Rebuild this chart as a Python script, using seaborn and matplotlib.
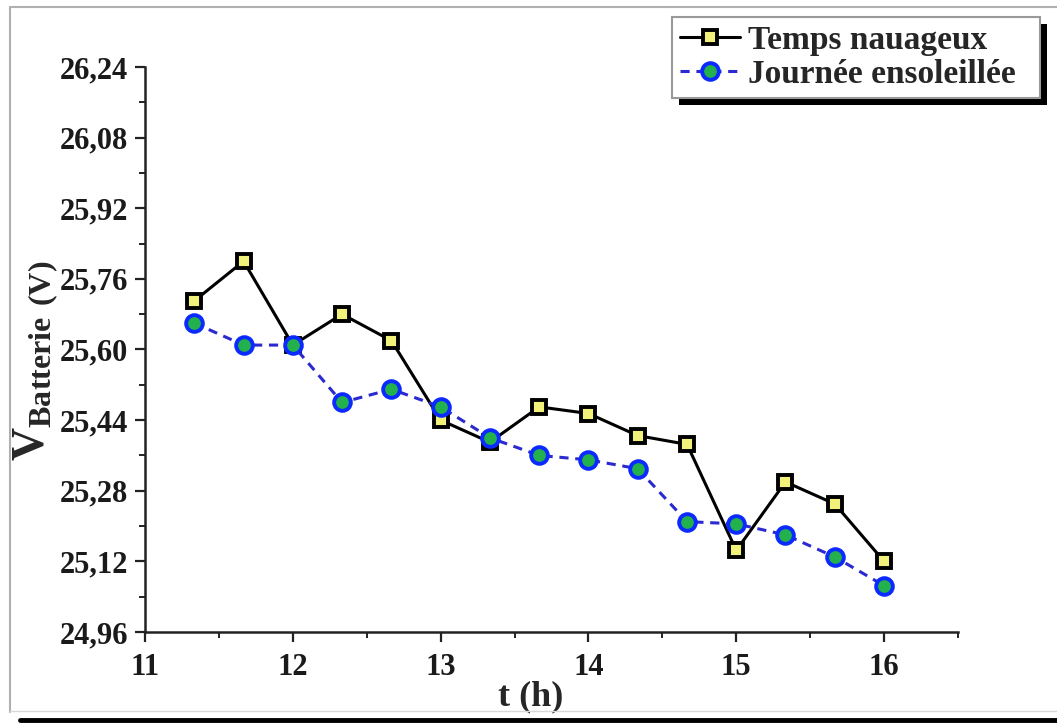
import numpy as np
import pandas as pd
import matplotlib
matplotlib.use("Agg")
import matplotlib.pyplot as plt
import matplotlib.ticker as mticker
from matplotlib.patches import Rectangle
from matplotlib.lines import Line2D
import seaborn as sns

# ---- data ----
t_hours = [11.333, 11.667, 12.0, 12.333, 12.667, 13.0, 13.333, 13.667,
           14.0, 14.333, 14.667, 15.0, 15.333, 15.667, 16.0]
v_nuageux = [25.71, 25.80, 25.61, 25.68, 25.62, 25.44, 25.39, 25.47,
             25.455, 25.405, 25.385, 25.145, 25.30, 25.25, 25.12]
v_soleil = [25.66, 25.61, 25.61, 25.48, 25.51, 25.47, 25.40, 25.36,
            25.35, 25.33, 25.21, 25.205, 25.18, 25.13, 25.065]
label_nuageux = "Temps nauageux"
label_soleil = "Journée ensoleillée"
y_ticks = [24.96, 25.12, 25.28, 25.44, 25.60, 25.76, 25.92, 26.08, 26.24]
x_ticks = [11, 12, 13, 14, 15, 16]

sns.set_style("ticks")
plt.rcParams['font.family'] = ['Liberation Serif', 'DejaVu Serif']
plt.rcParams['font.weight'] = 'bold'
plt.rcParams['mathtext.fontset'] = 'custom'
plt.rcParams['mathtext.rm'] = 'Liberation Serif:bold'
plt.rcParams['mathtext.bf'] = 'Liberation Serif:bold'

W, H = 1057, 724
fig = plt.figure(figsize=(W / 100, H / 100), dpi=100)
ax = fig.add_axes([145 / W, 1 - 632 / H, (958 - 145) / W, (632 - 67) / H])
ax.patch.set_visible(False)

sq_kw = dict(marker='s', markersize=10, markerfacecolor='#f2f27a',
             markeredgecolor='black', markeredgewidth=2.8)
ci_kw = dict(marker='o', markersize=12, markerfacecolor='#22b14c',
             markeredgecolor='#0a2aff', markeredgewidth=2.8)

sns.lineplot(x=t_hours, y=v_nuageux, ax=ax, color='black', linewidth=2.2,
             zorder=3, **sq_kw)
sns.lineplot(x=t_hours, y=v_soleil, ax=ax, color='#2a2ad0', linewidth=2.2,
             linestyle=(0, (3, 2.2)), zorder=4, **ci_kw)

ax.set_xlim(11, 16.5)
ax.set_ylim(24.96, 26.24)
ax.set_xticks(x_ticks)
ax.xaxis.set_minor_locator(mticker.MultipleLocator(0.5))
ax.set_yticks(y_ticks)
ax.yaxis.set_minor_locator(mticker.MultipleLocator(0.08))
ax.yaxis.set_major_formatter(mticker.FuncFormatter(lambda v, p: f"{v:.2f}".replace('.', ',')))
ax.xaxis.set_major_formatter(mticker.FuncFormatter(lambda v, p: f"{v:.0f}"))

for s in ['top', 'right']:
    ax.spines[s].set_visible(False)
for s in ['left', 'bottom']:
    ax.spines[s].set_linewidth(1.8)
    ax.spines[s].set_color('#222222')
ax.tick_params(axis='both', which='major', direction='out', length=7, width=1.6,
               labelsize=22, colors='#222222', labelcolor='#1a1a1a')
ax.tick_params(axis='x', which='major', pad=8)
ax.tick_params(axis='y', which='major', pad=5)
ax.tick_params(axis='both', which='minor', direction='out', length=4, width=1.4,
               colors='#222222')
for lab in ax.get_xticklabels() + ax.get_yticklabels():
    lab.set_fontweight('bold')

ax.set_xlabel("t (h)", fontsize=26, fontweight='bold')
ax.xaxis.set_label_coords(0.475, -0.085)
ax.set_ylabel(r"$\mathbf{V}_{\mathbf{Batterie\ (V)}}$", fontsize=33)
ax.yaxis.set_label_coords(-0.103, 0.48)

# outer frame with drop shadow
fig.add_artist(Line2D([10 / W, 10 / W], [1 - 7 / H, 1 - 712 / H], transform=fig.transFigure,
                      color='#b0b0b0', linewidth=1.5))
fig.add_artist(Line2D([10 / W, 1.0], [1 - 7 / H, 1 - 7 / H], transform=fig.transFigure,
                      color='#b0b0b0', linewidth=1.5))
fig.add_artist(Line2D([10 / W, 1.0], [1 - 711 / H, 1 - 711 / H], transform=fig.transFigure,
                      color='#d8d8d8', linewidth=1.0))
fig.add_artist(Line2D([20 / W, 1.0], [1 - 720 / H, 1 - 720 / H], transform=fig.transFigure,
                      color='black', linewidth=3.5))

# legend with black drop shadow
lx0, lx1, ly0, ly1 = 672, 1040, 17, 97
h1 = Line2D([], [], color='black', linewidth=2.2, **sq_kw)
h2 = Line2D([], [], color='#2a2ad0', linewidth=2.2, linestyle=(0, (3, 2.2)), **ci_kw)
leg = fig.legend([h1, h2], [label_nuageux, label_soleil],
                 loc='upper left', bbox_to_anchor=(lx0 / W, 1 - ly1 / H, (lx1 - lx0) / W, (ly1 - ly0) / H),
                 mode='expand', fancybox=False, framealpha=1, edgecolor='#999999',
                 prop={'family': 'Liberation Serif', 'weight': 'bold', 'size': 24},
                 handlelength=1.8, handletextpad=0.25, borderpad=0.24, labelspacing=0.08,
                 borderaxespad=0)
leg.set_zorder(5)
leg.get_frame().set_linewidth(1.5)

fig.canvas.draw()
bb = leg.get_window_extent().transformed(fig.transFigure.inverted())
fig.add_artist(Rectangle((bb.x0 + 7 / W, bb.y0 - 7 / H), bb.width, bb.height,
                         transform=fig.transFigure, facecolor='black', edgecolor='none', zorder=4))

fig.savefig("out.png", dpi=100)
